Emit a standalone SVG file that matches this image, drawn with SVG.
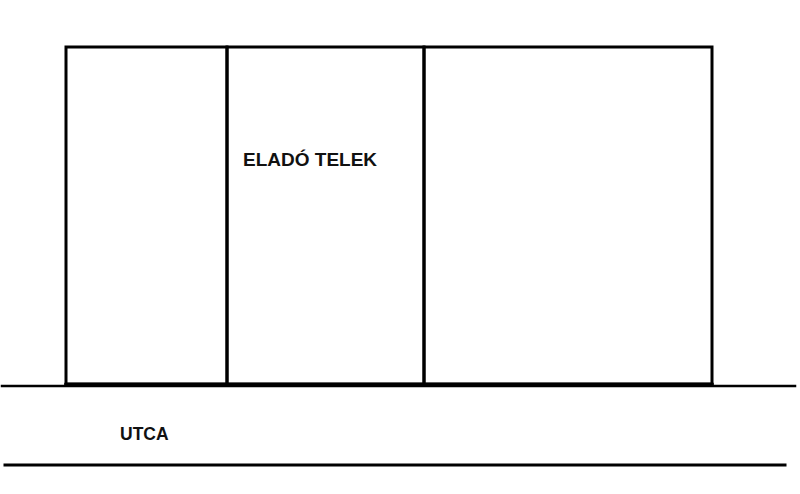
<svg xmlns="http://www.w3.org/2000/svg" width="800" height="494" viewBox="0 0 800 494">
<style>
.ln{stroke:#000;stroke-width:3;fill:none;stroke-linecap:square}
.t{font-family:"Liberation Sans",Arial,sans-serif;font-weight:bold;fill:#111}
</style>
<rect width="800" height="494" fill="#fff"/>
<g id="plots">
<rect id="plot-left" class="ln" x="66" y="47" width="161" height="337"/>
<rect id="plot-sale" class="ln" x="227" y="47" width="197" height="337"/>
<rect id="plot-right" class="ln" x="424" y="47" width="288" height="337"/>
</g>
<g id="street">
<line class="ln" x1="2" y1="386" x2="795" y2="386" style="stroke-width:2.5"/>
<line class="ln" x1="66" y1="384.5" x2="712" y2="384.5" style="stroke-width:3.5"/>
<line class="ln" x1="5" y1="465" x2="785" y2="465"/>
</g>
<text class="t" x="243" y="166" font-size="19">ELADÓ TELEK</text>
<text class="t" x="120" y="440" font-size="17.5">UTCA</text>
</svg>
